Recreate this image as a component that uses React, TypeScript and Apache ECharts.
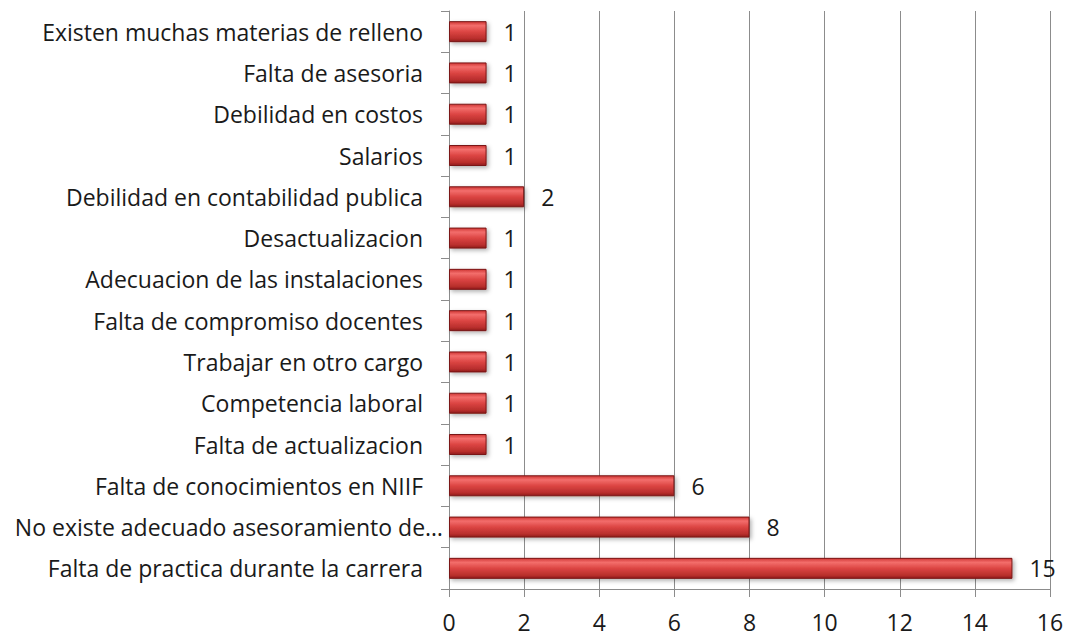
import React, { useEffect, useRef } from "react";
import * as echarts from "echarts";

const categories = [
  "Falta de practica durante la carrera",
  "No existe adecuado asesoramiento de…",
  "Falta de conocimientos en NIIF",
  "Falta de actualizacion",
  "Competencia laboral",
  "Trabajar en otro cargo",
  "Falta de compromiso docentes",
  "Adecuacion de las instalaciones",
  "Desactualizacion",
  "Debilidad en contabilidad publica",
  "Salarios",
  "Debilidad en costos",
  "Falta de asesoria",
  "Existen muchas materias de relleno",
];
const values = [15, 8, 6, 1, 1, 1, 1, 1, 1, 2, 1, 1, 1, 1];
const xTicks = { min: 0, max: 16, interval: 2 };

const FONT = "'Open Sans', 'Noto Sans', sans-serif";

export default function App() {
  const ref = useRef<HTMLDivElement>(null);
  useEffect(() => {
    if (!ref.current) return;
    const chart = echarts.init(ref.current, undefined, { renderer: "svg" });
    chart.setOption({
      animation: false,
      backgroundColor: "#ffffff",
      grid: { left: 449, right: 22, top: 11, bottom: 47, containLabel: false },
      xAxis: {
        type: "value",
        min: xTicks.min,
        max: xTicks.max,
        interval: xTicks.interval,
        axisLine: { show: true, lineStyle: { color: "#8c8c8c", width: 1 } },
        axisTick: { show: true, length: 8, lineStyle: { color: "#8c8c8c" } },
        axisLabel: { color: "#1a1a1a", fontSize: 23, fontFamily: FONT, margin: 21 },
        splitLine: { show: true, lineStyle: { color: "#8c8c8c", width: 1 } },
      },
      yAxis: {
        type: "category",
        data: categories.map((c) =>
          c.endsWith("…") ? { value: c, textStyle: { padding: [0, -20, 0, 0] } } : c
        ),
        axisLine: { show: true, lineStyle: { color: "#8c8c8c", width: 1 } },
        axisTick: { show: true, length: 8, alignWithLabel: false, lineStyle: { color: "#8c8c8c" } },
        axisLabel: { color: "#1a1a1a", fontSize: 23, fontFamily: FONT, margin: 26 },
      },
      series: [
        {
          type: "bar",
          data: values,
          barWidth: 21,
          itemStyle: {
            color: new echarts.graphic.LinearGradient(0, 0, 0, 1, [
              { offset: 0, color: "#cf3533" },
              { offset: 0.2, color: "#f36e6c" },
              { offset: 0.5, color: "#dc4543" },
              { offset: 0.85, color: "#b82e2c" },
              { offset: 1, color: "#8e1c1b" },
            ]),
            borderColor: "#7a1615",
            borderWidth: 1,
            shadowColor: "rgba(0,0,0,0.3)",
            shadowBlur: 4,
            shadowOffsetX: 2,
            shadowOffsetY: 2,
          },
          label: {
            show: true,
            position: "right",
            distance: 17,
            color: "#1a1a1a",
            fontSize: 23,
            fontFamily: FONT,
          },
        },
      ],
    });
    return () => chart.dispose();
  }, []);
  return (
    <div
      ref={ref}
      style={{ position: "fixed", left: 0, top: 0, width: 1072, height: 636, background: "#fff" }}
    />
  );
}
